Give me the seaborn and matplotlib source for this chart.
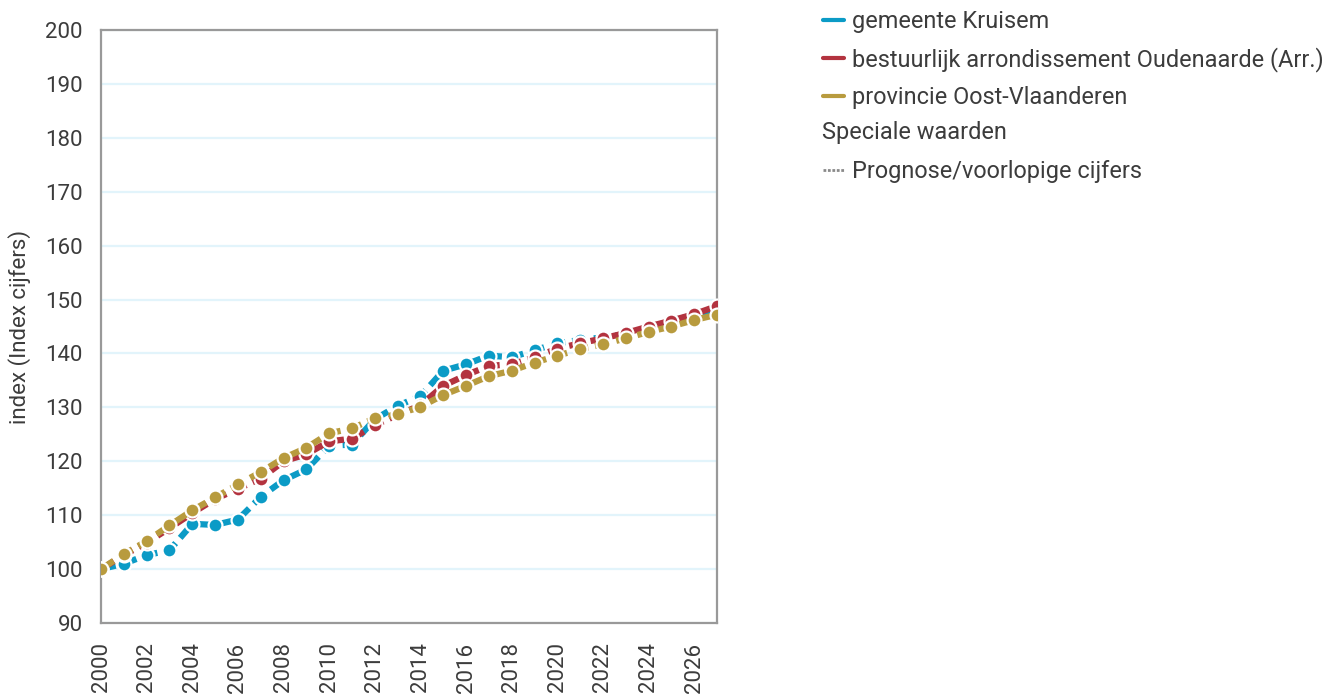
import matplotlib
matplotlib.use("Agg")
import matplotlib.pyplot as plt
from matplotlib.lines import Line2D
import seaborn as sns
import pandas as pd

years = list(range(2000, 2028))
kruisem = [100.0, 101.0, 102.6, 103.5, 108.4, 108.2, 109.2, 113.4, 116.5, 118.5,
           122.9, 123.1, 127.8, 130.3, 132.1, 136.8, 138.0, 139.6, 139.3, 140.6,
           141.9, 142.5, 143.0, 143.6, 144.8, 146.0, 147.2, 148.3]
oudenaarde = [100.0, 102.6, 104.9, 107.6, 110.4, 113.0, 114.9, 116.8, 120.0, 121.3,
              123.7, 124.2, 126.7, 128.6, 130.4, 134.0, 136.0, 137.7, 138.0, 139.3,
              140.9, 141.9, 142.8, 143.8, 145.0, 146.1, 147.3, 148.8]
oost_vl = [100.0, 102.8, 105.2, 108.1, 110.9, 113.3, 115.7, 118.0, 120.6, 122.5,
           125.2, 126.1, 128.0, 128.7, 130.1, 132.3, 134.0, 135.8, 136.8, 138.3,
           139.6, 140.8, 141.7, 142.8, 144.0, 145.0, 146.2, 147.2]

names = ["gemeente Kruisem", "bestuurlijk arrondissement Oudenaarde (Arr.)",
         "provincie Oost-Vlaanderen"]
colors = ["#0b9bc6", "#b3333f", "#b89b3e"]
series = [kruisem, oudenaarde, oost_vl]

sns.set_style("white")
plt.rcParams["font.family"] = ["Roboto", "DejaVu Sans"]
text_col = "#3c3c3c"

fig = plt.figure(figsize=(13.42, 6.98), dpi=100)
ax = fig.add_axes([0.0753, 0.1074, 0.4590, 0.8496])

for vals, c in zip(series, colors):
    df = pd.DataFrame({"jaar": years, "index": vals})
    sns.lineplot(data=df, x="jaar", y="index", color=c, ax=ax,
                 linewidth=4.5, linestyle=(0, (2.4, 1.1)),
                 marker="o", markersize=10, markeredgecolor="white",
                 markeredgewidth=1.6, zorder=3)

ax.set_xlim(2000, 2027)
ax.set_ylim(90, 200)
ax.set_xticks(range(2000, 2027, 2))
ax.set_xticklabels([str(y) for y in range(2000, 2027, 2)], rotation=90)
ax.set_yticks(range(90, 201, 10))
ax.tick_params(axis="both", length=0, labelsize=16, labelcolor=text_col)
ax.tick_params(axis="y", pad=13)
ax.tick_params(axis="x", pad=14)
ax.grid(axis="y", color="#e2f4fb", linewidth=1.6)
ax.set_axisbelow(True)
for s in ax.spines.values():
    s.set_color("#999999")
    s.set_linewidth(1.6)
ax.set_xlabel("")
ax.set_ylabel("index (Index cijfers)", fontsize=16, color=text_col, labelpad=10)

handles = [Line2D([], [], color=c, linewidth=3) for c in colors]
handles.append(Line2D([], [], linewidth=0))
handles.append(Line2D([], [], color="#8a8a8a", linewidth=2, linestyle=(0, (1, 0.6))))
labels = names + ["", "Prognose/voorlopige cijfers"]
leg = fig.legend(handles, labels, loc="upper left", bbox_to_anchor=(0.5975, 1.016),
                 frameon=False, fontsize=16.9, handlelength=0.9, handletextpad=0.32,
                 labelspacing=0.6, labelcolor=text_col)
fig.text(822 / 1342, 1 - 133 / 698, "Speciale waarden", fontsize=16.9,
         color=text_col, va="center", ha="left")

fig.savefig("out.png", dpi=100)
